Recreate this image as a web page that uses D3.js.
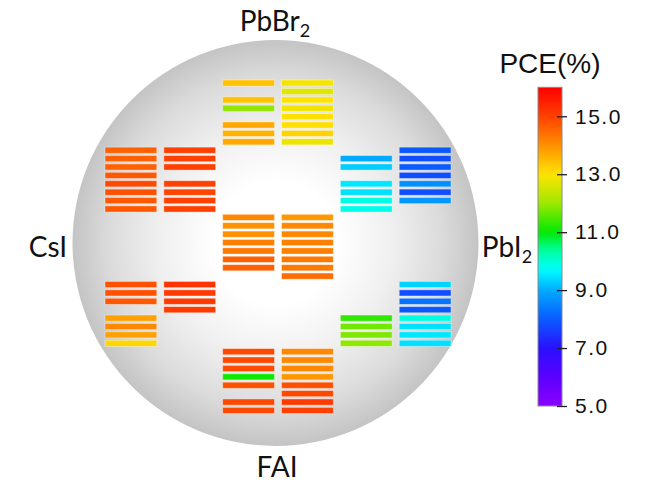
<!DOCTYPE html>
<html>
<head>
<meta charset="utf-8">
<script src="https://cdn.jsdelivr.net/npm/d3@7"></script>
<style>
  html, body { margin: 0; padding: 0; background: #fff; }
  svg { display: block; }
</style>
</head>
<body>
<svg id="chart" width="646" height="484"></svg>
<script>
// PCE (%) of each cell, listed top row to bottom row; null = no device.
// Each region holds two stripes of 8 rows.
const pbbr2Left   = [13.4, null, 13.4, 11.9, null, 13.7, 13.6, 13.7];
const pbbr2Right  = [12.9, 12.7, 13.0, 12.85, 13.05, 13.05, 13.2, 12.8];
const csiUpLeft   = [14.6, 14.6, 14.6, 14.7, 14.9, 14.8, 14.7, 14.7];
const csiUpRight  = [15.0, 15.0, 15.0, null, 15.0, 14.95, 15.0, 15.0];
const pbi2UpLeft  = [null, 9.0, 9.3, null, 9.5, 9.45, 9.9, 9.85];
const pbi2UpRight = [7.95, 7.8, 8.0, 7.8, 8.65, 7.8, 8.75, null];
const centerLeft  = [14.1, 14.0, 14.0, 14.2, 14.3, 14.6, 14.6, null];
const centerRight = [13.9, 14.1, 14.1, 14.2, 14.2, 14.3, 14.3, 14.45];
const csiLowLeft  = [14.8, 14.8, 14.7, null, 13.8, 14.1, 13.8, 13.15];
const csiLowRight = [15.2, 15.1, 15.1, 15.1, null, null, null, null];
const pbi2LowLeft = [null, null, null, null, 11.3, 11.7, 11.8, 11.9];
const pbi2LowRight= [9.35, 7.8, 8.3, 7.95, 9.9, 9.45, 9.5, 9.45];
const faiLeft     = [14.9, 14.9, 14.85, 11.1, 14.8, null, 14.9, 14.9];
const faiRight    = [14.1, 14.1, 14.1, 13.9, 14.8, 14.9, 15.1, 15.0];

// Precursor labels around the substrate
const precursorLabels = [
  { base: "PbBr", sub: "2", side: "top" },
  { base: "CsI",  sub: "",  side: "left" },
  { base: "PbI",  sub: "2", side: "right" },
  { base: "FAI",  sub: "",  side: "bottom" }
];

// Colour bar
const colorTicks = [5, 7, 9, 11, 13, 15];
const colorDomain = [5, 16];
const colorTitle = "PCE(%)";

// Rainbow colour map stops (value -> colour)
const stopValues = [5, 6, 7, 8, 9, 9.7, 10.4, 11, 12, 13, 14, 15, 16];
const stopColors = ["#8c00ff", "#5a00ff", "#2a10ff", "#0a5cff", "#00aaff", "#00ffff",
                    "#00ff99", "#00e800", "#a0e800", "#ffe400", "#ff9000", "#ff4000", "#ff0000"];

// Placement of the stripes: grid block (0..4 vertically) and column (0..5)
const stripes = [
  { values: pbbr2Left,    block: 0, col: 2 },
  { values: pbbr2Right,   block: 0, col: 3 },
  { values: csiUpLeft,    block: 1, col: 0 },
  { values: csiUpRight,   block: 1, col: 1 },
  { values: pbi2UpLeft,   block: 1, col: 4 },
  { values: pbi2UpRight,  block: 1, col: 5 },
  { values: centerLeft,   block: 2, col: 2 },
  { values: centerRight,  block: 2, col: 3 },
  { values: csiLowLeft,   block: 3, col: 0 },
  { values: csiLowRight,  block: 3, col: 1 },
  { values: pbi2LowLeft,  block: 3, col: 4 },
  { values: pbi2LowRight, block: 3, col: 5 },
  { values: faiLeft,      block: 4, col: 2 },
  { values: faiRight,     block: 4, col: 3 }
];

const cells = [];
stripes.forEach(s => s.values.forEach((v, i) => {
  if (v !== null) cells.push({ col: s.col, row: s.block * 8 + i, value: v });
}));

const svg = d3.select("#chart");
const defs = svg.append("defs");

const color = d3.scaleLinear().domain(stopValues).range(stopColors)
  .interpolate(d3.interpolateRgb).clamp(true);

// Substrate disc
const cx = 275.5, cy = 243, r = 203;
const radial = defs.append("radialGradient").attr("id", "disc")
  .attr("cx", "50%").attr("cy", "50%").attr("r", "50%");
[[0, "#ffffff"], [0.3, "#ffffff"], [0.58, "#efefef"], [0.82, "#dbdbdb"], [1, "#c4c4c4"]]
  .forEach(([o, c]) => radial.append("stop").attr("offset", o).attr("stop-color", c));
svg.append("circle").attr("cx", cx).attr("cy", cy).attr("r", r)
  .attr("fill", "url(#disc)");

// Device stripes
const x = d3.scaleBand().domain(d3.range(6)).range([105, 451]).paddingInner(0.12).paddingOuter(0);
const y = d3.scaleBand().domain(d3.range(40)).range([80, 413.5]).paddingInner(0.27).paddingOuter(0);

svg.append("g").selectAll("rect").data(cells).join("rect")
  .attr("x", d => x(d.col))
  .attr("y", d => y(d.row))
  .attr("width", x.bandwidth())
  .attr("height", y.bandwidth())
  .attr("fill", d => color(d.value))
  .attr("stroke", "rgba(255,255,255,0.45)")
  .attr("stroke-width", 0.8);

// Precursor labels
const labelFont = "Lato, 'Open Sans', sans-serif";
const labelPos = {
  top:    { x: 275, y: 31, anchor: "middle" },
  left:   { x: 48,  y: 257, anchor: "middle" },
  right:  { x: 507, y: 257, anchor: "middle" },
  bottom: { x: 277, y: 477, anchor: "middle" }
};
precursorLabels.forEach(l => {
  const p = labelPos[l.side];
  const t = svg.append("text")
    .attr("x", p.x).attr("y", p.y)
    .attr("text-anchor", p.anchor)
    .attr("font-family", labelFont)
    .attr("font-size", 28)
    .attr("fill", "#111");
  t.append("tspan").text(l.base);
  if (l.sub) t.append("tspan").attr("font-size", 18).attr("dy", 6).text(l.sub);
});

// Colour bar
const barX = 538, barW = 24;
const cy0 = 406, cy1 = 87.3;
const cbScale = d3.scaleLinear().domain(colorDomain).range([cy0, cy1]);

const lin = defs.append("linearGradient").attr("id", "cbar")
  .attr("x1", 0).attr("y1", 1).attr("x2", 0).attr("y2", 0);
d3.range(0, 1.0001, 0.02).forEach(t => {
  const v = colorDomain[0] + t * (colorDomain[1] - colorDomain[0]);
  lin.append("stop").attr("offset", t).attr("stop-color", color(v));
});
svg.append("rect")
  .attr("x", barX).attr("y", cy1)
  .attr("width", barW).attr("height", cy0 - cy1)
  .attr("fill", "url(#cbar)")
  .attr("stroke", "#8a8a8a").attr("stroke-width", 1);

const axis = d3.axisRight(cbScale)
  .tickValues(colorTicks)
  .tickFormat(d3.format(".1f"))
  .tickSizeInner(10).tickSizeOuter(0).tickPadding(8);
const ag = svg.append("g").attr("transform", `translate(${barX + barW - 5},0)`).call(axis);
ag.select(".domain").remove();
ag.selectAll(".tick line").attr("stroke", "#222").attr("stroke-width", 1.3);
ag.selectAll(".tick text")
  .attr("font-family", "'Liberation Sans', Arial, sans-serif")
  .attr("font-size", 21)
  .attr("letter-spacing", 1.5)
  .attr("fill", "#111");

svg.append("text")
  .attr("x", 550).attr("y", 73)
  .attr("text-anchor", "middle")
  .attr("font-family", "'Liberation Sans', Arial, sans-serif")
  .attr("font-size", 28)
  .attr("fill", "#111")
  .text(colorTitle);
</script>
</body>
</html>
